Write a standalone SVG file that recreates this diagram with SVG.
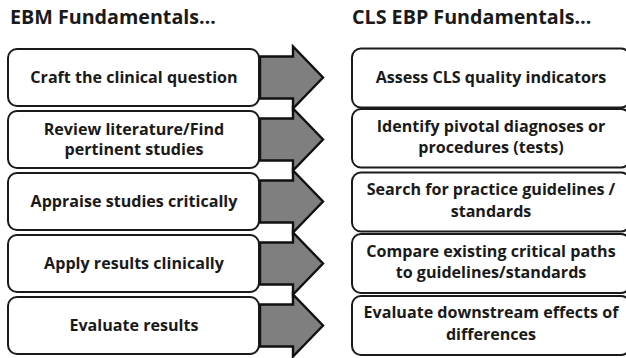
<svg xmlns="http://www.w3.org/2000/svg" width="626" height="358" viewBox="0 0 626 358">
<style>
.t{font-family:"Open Sans",Lato,"Liberation Sans",sans-serif;font-weight:bold;fill:#1a1a1a}
.title{font-size:19.7px}
.lbl{font-size:16.1px;text-anchor:middle}
.box{fill:#fff;stroke:#1a1a1a;stroke-width:2}
.arr{fill:#7f7f7f;stroke:#111;stroke-width:2.4;stroke-linejoin:miter}
</style>
<defs>
<path id="arrow" d="M260,-21 H293 V-31 L323,0 L293,31 V21 H260 Z"/>
</defs>
<rect width="626" height="358" fill="#fff"/>
<text class="t title" x="10" y="24">EBM Fundamentals…</text>
<text class="t title" x="352" y="24">CLS EBP Fundamentals…</text>
<g id="connectors">
<use href="#arrow" class="arr" y="77.5"/>
<use href="#arrow" class="arr" y="139.5"/>
<use href="#arrow" class="arr" y="201.5"/>
<use href="#arrow" class="arr" y="263.5"/>
<use href="#arrow" class="arr" y="325.5"/>
</g>
<g id="ebm1"><rect class="box" x="8" y="49" width="251" height="57" rx="9"/><text class="t lbl" x="134" y="83">Craft the clinical question</text></g>
<g id="ebm2"><rect class="box" x="8" y="111" width="251" height="57" rx="9"/><text class="t lbl" x="134" y="135">Review literature/Find</text><text class="t lbl" x="134" y="155">pertinent studies</text></g>
<g id="ebm3"><rect class="box" x="8" y="173" width="251" height="57" rx="9"/><text class="t lbl" x="134" y="207">Appraise studies critically</text></g>
<g id="ebm4"><rect class="box" x="8" y="235" width="251" height="57" rx="9"/><text class="t lbl" x="134" y="269">Apply results clinically</text></g>
<g id="ebm5"><rect class="box" x="8" y="297" width="251" height="57" rx="9"/><text class="t lbl" x="134" y="331">Evaluate results</text></g>
<g id="cls1"><rect class="box" x="352" y="48.5" width="278" height="59" rx="9"/><text class="t lbl" x="491" y="83">Assess CLS quality indicators</text></g>
<g id="cls2"><rect class="box" x="352" y="109" width="278" height="58.5" rx="9"/><text class="t lbl" x="491" y="132">Identify pivotal diagnoses or</text><text class="t lbl" x="491" y="153">procedures (tests)</text></g>
<g id="cls3"><rect class="box" x="352" y="172.5" width="278" height="59" rx="9"/><text class="t lbl" x="491" y="195">Search for practice guidelines /</text><text class="t lbl" x="491" y="217">standards</text></g>
<g id="cls4"><rect class="box" x="352" y="234" width="278" height="59" rx="9"/><text class="t lbl" x="491" y="257">Compare existing critical paths</text><text class="t lbl" x="491" y="278">to guidelines/standards</text></g>
<g id="cls5"><rect class="box" x="352" y="296" width="278" height="59" rx="9"/><text class="t lbl" x="491" y="318">Evaluate downstream effects of</text><text class="t lbl" x="491" y="340">differences</text></g>
</svg>
